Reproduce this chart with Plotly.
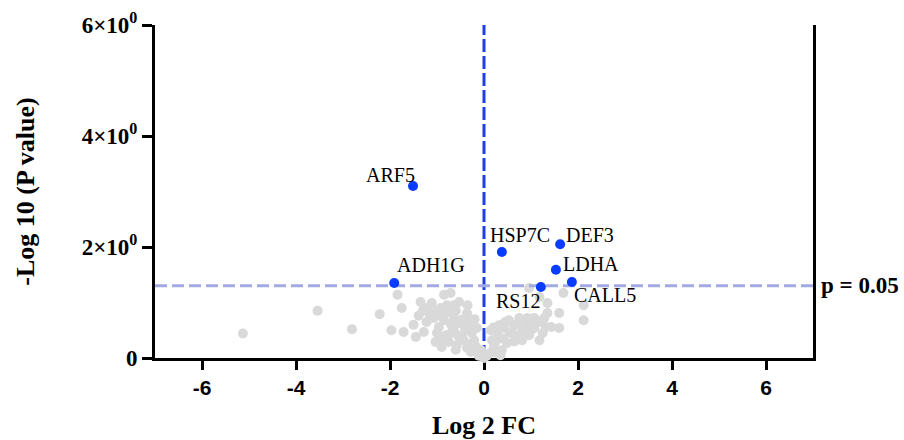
import plotly.graph_objects as go

# Significant genes
sig_genes = ["ARF5", "ADH1G", "HSP7C", "DEF3", "LDHA", "CALL5", "RS12"]
sig_x = [-1.51, -1.91, 0.38, 1.62, 1.53, 1.87, 1.21]
sig_y = [3.10, 1.35, 1.91, 2.05, 1.59, 1.37, 1.28]

# Non-significant genes
ns_x = [-5.13, -3.54, -2.81, -2.22,
        -1.84, -1.75, -1.97, -1.71, -1.45, -1.39, -1.35, -1.11, -1.15, -0.85, -0.71, -0.79,
        -0.53, -0.92, -0.75, -0.36, -0.53, -0.96, -1.03, -0.75, -0.47, -0.26, -0.17, -0.11,
        -0.64, -1.22, -1.07, -0.85, -0.64, -0.43, -0.32, -0.81, -1.28, -0.58, -0.36, -0.43,
        -0.21, -0.15, -0.28, 0.0, 0.06, -0.06,
        -1.5, -1.3, -1.2, -1.0, -1.0, -0.9, -0.9, -0.7, -0.7, -0.65, -0.6, -0.55, -0.45, -0.4,
        -0.3, -0.25, -0.2, -0.35, -0.6, -0.9,
        0.13, 0.21, 0.28, 0.38, 0.43, 0.49, 0.53, 0.71, 0.75, 0.85, 0.92, 0.96, 1.07, 1.07,
        1.18, 1.18, 1.32, 1.35, 1.35, 1.43, 1.60, 1.60, 1.69, 2.12, 2.12,
        0.17, 0.32, 0.60, 0.64, 0.81, 0.96, 1.18, 1.28, 0.32, 0.14,
        0.2, 0.25, 0.4, 0.45, 0.55, 0.65, 0.7, 0.8, 0.9, 1.0, 1.1, 1.25, 0.35, 0.25]
ns_y = [0.44, 0.85, 0.52, 0.79,
        1.14, 0.90, 0.50, 0.47, 0.38, 0.76, 1.01, 0.99, 0.77, 1.14, 1.17, 0.95,
        1.01, 0.90, 0.83, 0.81, 0.63, 0.56, 0.29, 0.29, 0.38, 0.45, 0.20, 0.04,
        0.50, 0.65, 0.72, 0.68, 0.72, 0.59, 0.68, 0.41, 0.47, 0.23, 0.18, 0.32,
        0.32, 0.54, 0.11, 0.0, 0.04, 0.14,
        0.60, 0.85, 0.90, 0.85, 0.45, 0.75, 0.35, 0.60, 0.45, 0.95, 0.85, 0.40, 0.70, 0.50,
        0.55, 0.25, 0.70, 0.95, 0.15, 0.20,
        0.09, 0.20, 0.45, 0.14, 0.54, 0.27, 0.68, 0.38, 0.72, 0.54, 0.72, 1.26, 0.72, 0.54,
        0.32, 1.10, 0.56, 0.81, 0.99, 0.56, 0.81, 0.54, 1.17, 0.95, 0.68,
        0.32, 0.36, 0.45, 0.59, 0.32, 0.41, 0.65, 0.72, 0.59, 0.50,
        0.55, 0.30, 0.35, 0.65, 0.45, 0.30, 0.60, 0.45, 0.60, 0.50, 0.62, 0.45, 0.05, 0.10]

# Threshold lines
p_threshold = 1.301
x_range = [-7, 7]
y_range = [0, 6]
x_ticks = [-6, -4, -2, 0, 2, 4, 6]
y_ticks = [0, 2, 4, 6]
y_ticktext = ["0", "2×10<sup>0</sup>", "4×10<sup>0</sup>", "6×10<sup>0</sup>"]

# Label offsets (pixels) per gene
label_anchor = ["right", "left", "left", "left", "left", "left", "right"]
label_dx = [4, 1, -14, 4, 5, 0, 1]
label_dy = [11, 18, 17, 9, 6, -13, -14]

SERIF = "Liberation Serif, Times New Roman, serif"
SANS = "Liberation Sans, Arial, sans-serif"

fig = go.Figure()

fig.add_trace(go.Scatter(
    x=[0, 0], y=y_range, mode="lines",
    line=dict(color="#1f3ee8", width=3, dash="13px,4px"),
    showlegend=False, hoverinfo="skip"))

fig.add_trace(go.Scatter(
    x=ns_x, y=ns_y, mode="markers",
    marker=dict(color="#d9d9d9", size=10, line=dict(width=0)),
    cliponaxis=False, showlegend=False, hoverinfo="skip"))

fig.add_trace(go.Scatter(
    x=x_range, y=[p_threshold, p_threshold], mode="lines",
    line=dict(color="#a3aae3", width=3, dash="12px,5px"),
    showlegend=False, hoverinfo="skip"))

fig.add_trace(go.Scatter(
    x=sig_x, y=sig_y, mode="markers",
    marker=dict(color="#0a3cff", size=10, line=dict(width=0)),
    cliponaxis=False, showlegend=False, text=sig_genes))

annotations = []
for g, xx, yy, anc, dx, dy in zip(sig_genes, sig_x, sig_y, label_anchor, label_dx, label_dy):
    annotations.append(dict(
        x=xx, y=yy, xref="x", yref="y", text=g, showarrow=False,
        xanchor=anc, yanchor="middle", xshift=dx, yshift=dy,
        font=dict(family=SERIF, size=20, color="black")))

annotations.append(dict(
    x=1, y=p_threshold, xref="paper", yref="y", text="<b>p = 0.05</b>",
    showarrow=False, xanchor="left", yanchor="middle", xshift=6,
    font=dict(family=SERIF, size=23, color="black")))

fig.update_layout(
    width=904, height=440,
    margin=dict(l=155, r=91, t=25, b=82),
    plot_bgcolor="white", paper_bgcolor="white",
    annotations=annotations,
    xaxis=dict(
        range=x_range, tickvals=x_ticks, ticktext=[str(v) for v in x_ticks],
        showgrid=False, zeroline=False, automargin=False,
        showline=True, linecolor="black", linewidth=3,
        ticks="outside", ticklen=9, tickwidth=3, tickcolor="black",
        tickfont=dict(family=SANS, size=21, color="black", weight="bold"),
        title=dict(text="<b>Log 2 FC</b>", font=dict(family=SERIF, size=26, color="black"),
                   standoff=20),
        layer="below traces"),
    yaxis=dict(
        range=y_range, tickvals=y_ticks, ticktext=y_ticktext,
        showgrid=False, zeroline=False, automargin=False,
        showline=True, linecolor="black", linewidth=3, mirror=True,
        ticks="outside", ticklen=10, tickwidth=3, tickcolor="black",
        tickfont=dict(family=SERIF, size=23, color="black", weight="bold"),
        title=dict(text="<b>-Log 10 (P value)</b>", font=dict(family=SERIF, size=26, color="black"),
                   standoff=40),
        layer="below traces"),
)

fig.write_html("out.html", config={"displayModeBar": False},
               post_script="document.body.style.margin='0px';")
